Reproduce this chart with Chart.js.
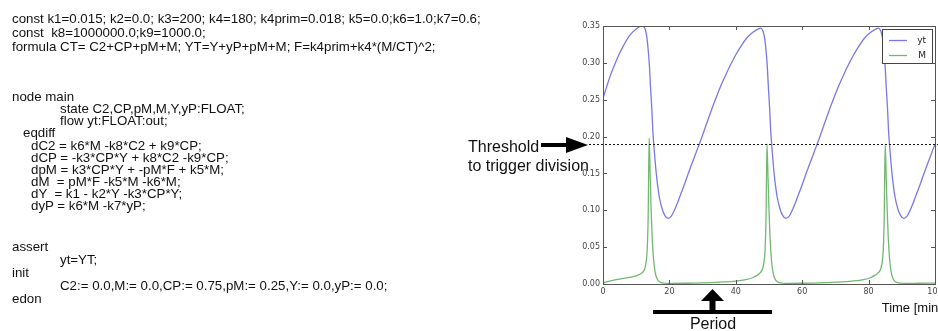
<!DOCTYPE html>
<html>
<head>
<meta charset="utf-8">
<script src="https://cdn.jsdelivr.net/npm/chart.js@4/dist/chart.umd.min.js"></script>
<style>
  html, body { margin: 0; padding: 0; background: #fff; overflow: hidden; }
  #wrap { position: relative; width: 938px; height: 331px; overflow: hidden; }
  #plot { position: absolute; left: 0; top: 0; }
  .note { position: absolute; font-family: "Liberation Sans", Arial, sans-serif; color: #111; white-space: pre; }
  .code { font-size: 13.3px; line-height: 15px; }
  .big { font-size: 16px; line-height: 19px; }
</style>
</head>
<body>
<div id="wrap">
  <canvas id="plot" width="938" height="331"></canvas>

  <div class="note code" style="left:12px; top:10.5px;">const k1=0.015; k2=0.0; k3=200; k4=180; k4prim=0.018; k5=0.0;k6=1.0;k7=0.6;</div>
  <div class="note code" style="left:12px; top:24.5px;">const  k8=1000000.0;k9=1000.0;</div>
  <div class="note code" style="left:12px; top:38.5px;">formula CT= C2+CP+pM+M; YT=Y+yP+pM+M; F=k4prim+k4*(M/CT)^2;</div>
  <div class="note code" style="left:12px; top:88.5px;">node main</div>
  <div class="note code" style="left:60px; top:100.5px;">state C2,CP,pM,M,Y,yP:FLOAT;</div>
  <div class="note code" style="left:60px; top:112.5px;">flow yt:FLOAT:out;</div>
  <div class="note code" style="left:23px; top:124.5px;">eqdiff</div>
  <div class="note code" style="left:31px; top:137.5px;">dC2 = k6*M -k8*C2 + k9*CP;</div>
  <div class="note code" style="left:31px; top:149.5px;">dCP = -k3*CP*Y + k8*C2 -k9*CP;</div>
  <div class="note code" style="left:31px; top:161.5px;">dpM = k3*CP*Y + -pM*F + k5*M;</div>
  <div class="note code" style="left:31px; top:173.5px;">dM  = pM*F -k5*M -k6*M;</div>
  <div class="note code" style="left:31px; top:185.5px;">dY  = k1 - k2*Y -k3*CP*Y;</div>
  <div class="note code" style="left:31px; top:197.5px;">dyP = k6*M -k7*yP;</div>
  <div class="note code" style="left:12px; top:238.5px;">assert</div>
  <div class="note code" style="left:60px; top:251.5px;">yt=YT;</div>
  <div class="note code" style="left:12px; top:264.5px;">init</div>
  <div class="note code" style="left:60px; top:277.5px;">C2:= 0.0,M:= 0.0,CP:= 0.75,pM:= 0.25,Y:= 0.0,yP:= 0.0;</div>
  <div class="note code" style="left:12px; top:290.5px;">edon</div>

  <div class="note big" style="left:468px; top:136.5px;">Threshold</div>
  <div class="note big" style="left:468px; top:155.5px;">to trigger division</div>
  <div class="note big" style="left:663px; top:313.5px; width:100px; text-align:center;">Period</div>
  <div class="note" style="left:881.7px; top:300px; font-size:13px; line-height:15px;">Time [min]</div>
</div>

<script>
// tick labels
const timeTicks = [0, 20, 40, 60, 80, 100];
const valueTicks = ["0.00", "0.05", "0.10", "0.15", "0.20", "0.25", "0.30", "0.35"];
const threshold = 0.19;

// yt
const ytTime = [0, 1, 2, 3, 4, 5, 6, 7, 8, 9, 10, 11, 12,
  12.6, 13.1, 13.5, 14.0, 14.3, 14.7, 15.0, 15.5, 16.0, 16.5, 17.0, 17.8, 18.6, 19.6,
  20.6, 21.6, 22.6, 23.6, 24.6, 25.6, 26.6, 27.6, 28.6, 29.6, 31, 32.5, 34, 35.5, 37, 38.5, 40, 41.5, 43, 44.5, 46, 47.5,
  48.1, 48.6, 49.0, 49.5, 49.8, 50.2, 50.5, 51.0, 51.5, 52.0, 52.5, 53.3, 54.1, 55.1,
  56.1, 57.1, 58.1, 59.1, 60.1, 61.1, 62.1, 63.1, 64.1, 65.1, 66.5, 68, 69.5, 71, 72.5, 74, 75.5, 77, 78.5, 80, 81.5, 83,
  83.6, 84.1, 84.5, 85.0, 85.3, 85.7, 86.0, 86.5, 87.0, 87.5, 88.0, 88.8, 89.6, 90.6,
  91.6, 92.6, 93.6, 94.6, 95.6, 96.6, 97.6, 98.6, 99.6, 100];
const ytValues = [0.252, 0.266, 0.280, 0.292, 0.303, 0.313, 0.322, 0.330, 0.337, 0.342, 0.346, 0.349, 0.350,
  0.347, 0.338, 0.323, 0.295, 0.268, 0.238, 0.209, 0.178, 0.152, 0.132, 0.117, 0.102, 0.093, 0.089,
  0.092, 0.101, 0.112, 0.124, 0.136, 0.149, 0.161, 0.173, 0.185, 0.197, 0.215, 0.234, 0.252, 0.269, 0.284, 0.298, 0.311, 0.322, 0.332, 0.339, 0.344, 0.347,
  0.344, 0.336, 0.322, 0.294, 0.268, 0.238, 0.209, 0.178, 0.152, 0.132, 0.117, 0.102, 0.093, 0.089,
  0.092, 0.101, 0.112, 0.124, 0.136, 0.149, 0.161, 0.173, 0.185, 0.197, 0.215, 0.234, 0.252, 0.269, 0.284, 0.298, 0.311, 0.322, 0.332, 0.339, 0.344, 0.347,
  0.344, 0.336, 0.322, 0.294, 0.268, 0.238, 0.209, 0.178, 0.152, 0.132, 0.117, 0.102, 0.093, 0.089,
  0.092, 0.101, 0.112, 0.124, 0.136, 0.149, 0.161, 0.173, 0.185, 0.189];

// M
const mTime = [0, 0.5, 2, 4, 6, 8, 10, 11, 12, 12.6, 13.0, 13.3, 13.6, 13.9, 14.2, 14.5, 14.8, 15.2, 15.7, 16.3, 17.0, 18.0,
  20, 25, 30, 35, 40, 43, 45, 46.5, 47.5, 48.1, 48.5, 48.8, 49.1, 49.4, 49.7, 50.0, 50.3, 50.7, 51.2, 51.8, 52.5, 53.5,
  55.5, 60, 65, 70, 75, 78.5, 80.5, 82, 83.1, 83.7, 84.1, 84.4, 84.7, 85.0, 85.3, 85.6, 85.9, 86.3, 86.8, 87.4, 88.1, 89.1,
  91, 95, 100];
const mValues = [0.000, 0.002, 0.004, 0.006, 0.0075, 0.009, 0.011, 0.013, 0.016, 0.021, 0.030, 0.045, 0.090, 0.198, 0.150, 0.100, 0.065, 0.035, 0.016, 0.007, 0.003, 0.0015,
  0.0008, 0.001, 0.0015, 0.0025, 0.004, 0.006, 0.0085, 0.012, 0.016, 0.021, 0.030, 0.045, 0.090, 0.190, 0.145, 0.100, 0.065, 0.035, 0.016, 0.007, 0.003, 0.0015,
  0.0008, 0.001, 0.0015, 0.0025, 0.004, 0.006, 0.0085, 0.012, 0.016, 0.021, 0.030, 0.045, 0.090, 0.190, 0.145, 0.100, 0.065, 0.035, 0.016, 0.007, 0.003, 0.0015,
  0.0008, 0.001, 0.0013];

const seriesNames = ["yt", "M"];
const seriesColors = ["#7878e6", "#72b872"];

function pairs(xs, ys) {
  return xs.map((t, i) => ({ x: t, y: ys[i] }));
}

// frame, inward ticks, threshold, legend and arrows (matplotlib look)
const decorations = {
  id: "decorations",
  afterDraw(chart) {
    const { ctx, chartArea: a } = chart;
    const x = chart.scales.x, y = chart.scales.y;
    ctx.save();

    ctx.strokeStyle = "#555";
    ctx.lineWidth = 1;
    ctx.strokeRect(Math.round(a.left) + 0.5, Math.round(a.top) + 0.5,
      Math.round(a.right - a.left), Math.round(a.bottom - a.top));

    ctx.beginPath();
    x.ticks.forEach(t => {
      const px = Math.round(x.getPixelForValue(t.value)) + 0.5;
      ctx.moveTo(px, a.bottom); ctx.lineTo(px, a.bottom - 4);
      ctx.moveTo(px, a.top); ctx.lineTo(px, a.top + 4);
    });
    y.ticks.forEach(t => {
      const py = Math.round(y.getPixelForValue(t.value)) + 0.5;
      ctx.moveTo(a.left, py); ctx.lineTo(a.left + 4, py);
      ctx.moveTo(a.right, py); ctx.lineTo(a.right - 4, py);
    });
    ctx.stroke();

    // threshold
    const ty = Math.round(y.getPixelForValue(threshold)) + 0.5;
    ctx.strokeStyle = "#111";
    ctx.setLineDash([2, 2]);
    ctx.beginPath();
    ctx.moveTo(589, ty); ctx.lineTo(938, ty);
    ctx.stroke();
    ctx.setLineDash([]);

    // threshold arrow
    ctx.fillStyle = "#000";
    ctx.fillRect(541, ty - 1.5, 27, 4);
    ctx.beginPath();
    ctx.moveTo(566, ty - 7.5); ctx.lineTo(588, ty + 0.5); ctx.lineTo(566, ty + 8.5);
    ctx.closePath(); ctx.fill();

    // period bar and arrow
    ctx.fillRect(653, 310, 119, 4);
    ctx.fillRect(709.5, 299, 6, 12);
    ctx.beginPath();
    ctx.moveTo(701, 301); ctx.lineTo(724, 301); ctx.lineTo(712.5, 289);
    ctx.closePath(); ctx.fill();

    // legend
    ctx.fillStyle = "#fff";
    ctx.fillRect(882, 29, 50, 34);
    ctx.strokeStyle = "#444";
    ctx.strokeRect(882.5, 29.5, 50, 34);
    ctx.font = "9px 'DejaVu Sans'";
    ctx.textAlign = "right";
    ctx.textBaseline = "middle";
    chart.data.datasets.forEach((ds, i) => {
      const ly = 40.5 + i * 15;
      ctx.strokeStyle = ds.borderColor;
      ctx.lineWidth = 1.3;
      ctx.beginPath();
      ctx.moveTo(889, ly); ctx.lineTo(907, ly);
      ctx.stroke();
      ctx.fillStyle = "#222";
      ctx.fillText(ds.label, 926, ly);
    });
    ctx.restore();
  }
};

const tickFont = { family: "DejaVu Sans", size: 8 };

new Chart(document.getElementById("plot"), {
  type: "scatter",
  data: {
    datasets: [
      { label: seriesNames[0], data: pairs(ytTime, ytValues), borderColor: seriesColors[0] },
      { label: seriesNames[1], data: pairs(mTime, mValues), borderColor: seriesColors[1] }
    ]
  },
  options: {
    responsive: false,
    animation: false,
    showLine: true,
    layout: { padding: { top: 26, right: 3, left: 0, bottom: 0 } },
    elements: {
      point: { radius: 0 },
      line: { borderWidth: 1.3, cubicInterpolationMode: "monotone", fill: false }
    },
    plugins: { legend: { display: false }, tooltip: { enabled: false } },
    scales: {
      x: {
        type: "linear", min: 0, max: 100,
        grid: { display: false, drawTicks: false },
        border: { display: false },
        ticks: {
          stepSize: 20, maxRotation: 0, padding: 3, color: "#444", font: tickFont,
          callback: v => timeTicks.includes(v) ? String(v) : ""
        },
        afterFit: s => { s.height = 47; s.paddingLeft = 0; s.paddingRight = 0; }
      },
      y: {
        min: 0, max: 0.35,
        grid: { display: false, drawTicks: false },
        border: { display: false },
        ticks: {
          stepSize: 0.05, padding: 3, color: "#444", font: tickFont,
          callback: v => valueTicks[Math.round(v / 0.05)]
        },
        afterFit: s => { s.width = 603; s.paddingTop = 0; s.paddingBottom = 0; }
      }
    }
  },
  plugins: [decorations]
});
</script>
</body>
</html>
